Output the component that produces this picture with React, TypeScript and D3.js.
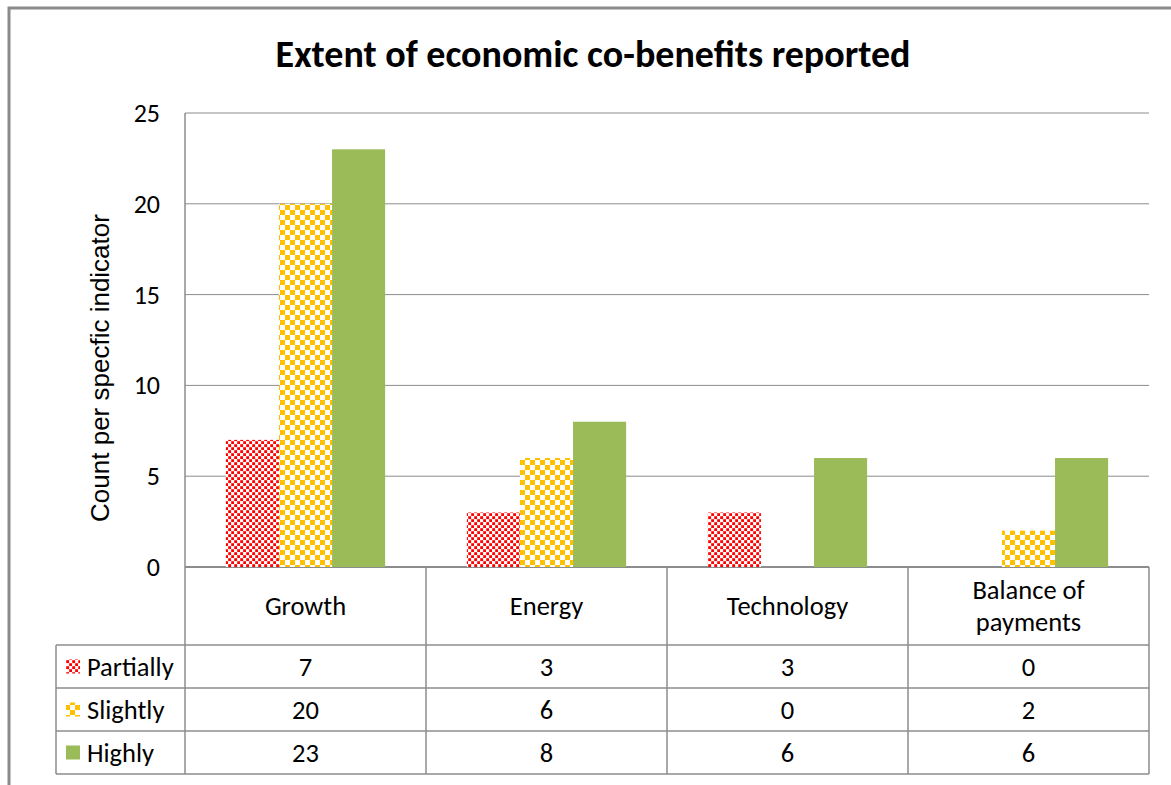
import React from "react";
import * as d3 from "d3";

const categories = ["Growth", "Energy", "Technology", "Balance of payments"];
const seriesNames = ["Partially", "Slightly", "Highly"];
const partially = [7, 3, 3, 0];
const slightly = [20, 6, 0, 2];
const highly = [23, 8, 6, 6];
const yTicks = [0, 5, 10, 15, 20, 25];

const seriesValues = [partially, slightly, highly];
const fills = ["url(#dots)", "url(#checks)", "#9BBB59"];

const W = 1171;
const H = 785;
const plotLeft = 185;
const plotRight = 1149;
const plotTop = 113;
const plotBottom = 567;
const headerBottom = 645;
const rowH = 43;
const legendLeft = 56;
const grid = "#8c8c8c";
const fontCal = "Carlito, Calibri, Lato, 'Open Sans', sans-serif";
const tableSize = 26.5;

export default function App() {
  const x = d3.scaleBand<string>().domain(categories).range([plotLeft, plotRight]);
  const inner = d3
    .scaleBand<string>()
    .domain(seriesNames)
    .range([0, x.bandwidth()])
    .paddingInner(0)
    .paddingOuter(0.77);
  const y = d3.scaleLinear().domain([0, 25]).range([plotBottom, plotTop]);

  const tableBottom = headerBottom + rowH * seriesNames.length;

  return (
    <svg width={W} height={H} style={{ position: "absolute", left: 0, top: 0, background: "#fff" }}>
      <defs>
        <pattern id="dots" width="6" height="6" patternUnits="userSpaceOnUse">
          <rect width="6" height="6" fill="#fff" />
          <rect x="0.2" y="0.2" width="2.9" height="2.9" fill="#ff0000" />
          <rect x="3.2" y="3.2" width="2.9" height="2.9" fill="#ff0000" />
        </pattern>
        <pattern id="checks" width="10" height="10" patternUnits="userSpaceOnUse">
          <rect width="10" height="10" fill="#fff" />
          <rect x="0" y="0" width="5" height="5" fill="#FFC000" />
          <rect x="5" y="5" width="5" height="5" fill="#FFC000" />
        </pattern>
      </defs>

      {/* outer frame */}
      <rect x={9} y={8} width={W + 10} height={H + 10} fill="none" stroke="#8a8a8a" strokeWidth={3} />

      <text
        x={593}
        y={67}
        textAnchor="middle"
        fontFamily={fontCal}
        fontWeight="bold"
        fontSize={38}
        fill="#000"
      >
        Extent of economic co-benefits reported
      </text>

      {/* gridlines */}
      {yTicks.map((t) => (
        <line key={t} x1={plotLeft} x2={plotRight} y1={y(t)} y2={y(t)} stroke={grid} strokeWidth={t === 0 ? 2 : 1} />
      ))}
      {yTicks.map((t) => (
        <text
          key={"l" + t}
          x={160}
          y={y(t) + 9}
          textAnchor="end"
          fontFamily={fontCal}
          fontSize={26}
          fill="#000"
        >
          {t}
        </text>
      ))}

      <text
        transform={`translate(109, ${(plotTop + plotBottom) / 2 + 28}) rotate(-90)`}
        textAnchor="middle"
        fontFamily="'Liberation Sans', Arial, sans-serif"
        fontSize={26}
        fill="#000"
      >
        Count per specfic indicator
      </text>

      {/* bars */}
      {seriesValues.map((vals, si) =>
        vals.map((v, ci) =>
          v > 0 ? (
            <rect
              key={`${si}-${ci}`}
              x={(x(categories[ci]) ?? 0) + (inner(seriesNames[si]) ?? 0)}
              y={y(v)}
              width={inner.bandwidth()}
              height={y(0) - y(v)}
              fill={fills[si]}
            />
          ) : null
        )
      )}

      {/* data table */}
      <g stroke={grid} strokeWidth={1.5} fill="none">
        <line x1={plotLeft} x2={plotLeft} y1={plotTop} y2={tableBottom} />
        {categories.map((c) => (
          <line key={c} x1={(x(c) ?? 0) + x.bandwidth()} x2={(x(c) ?? 0) + x.bandwidth()} y1={plotBottom} y2={tableBottom} />
        ))}
        <line x1={legendLeft} x2={legendLeft} y1={headerBottom} y2={tableBottom} />
        {seriesNames.map((s, i) => (
          <line key={s} x1={legendLeft} x2={plotRight} y1={headerBottom + rowH * i} y2={headerBottom + rowH * i} />
        ))}
        <line x1={legendLeft} x2={plotRight} y1={tableBottom} y2={tableBottom} />
      </g>

      {categories.map((c) => {
        const cx = (x(c) ?? 0) + x.bandwidth() / 2;
        const words = c === "Balance of payments" ? ["Balance of", "payments"] : [c];
        const midY = (plotBottom + headerBottom) / 2;
        return (
          <text key={c} textAnchor="middle" fontFamily={fontCal} fontSize={tableSize} fill="#000">
            {words.map((w, i) => (
              <tspan key={w} x={cx} y={midY + 9 + (i - (words.length - 1) / 2) * 32}>
                {w}
              </tspan>
            ))}
          </text>
        );
      })}

      {seriesNames.map((s, si) => {
        const rowMid = headerBottom + rowH * si + rowH / 2;
        return (
          <g key={s}>
            <rect x={66} y={rowMid - 7} width={14} height={14} fill={fills[si]} />
            <text x={87} y={rowMid + 9} fontFamily={fontCal} fontSize={tableSize} fill="#000">
              {s}
            </text>
            {seriesValues[si].map((v, ci) => (
              <text
                key={ci}
                x={(x(categories[ci]) ?? 0) + x.bandwidth() / 2}
                y={rowMid + 9}
                textAnchor="middle"
                fontFamily={fontCal}
                fontSize={tableSize}
                fill="#000"
              >
                {v}
              </text>
            ))}
          </g>
        );
      })}
    </svg>
  );
}
